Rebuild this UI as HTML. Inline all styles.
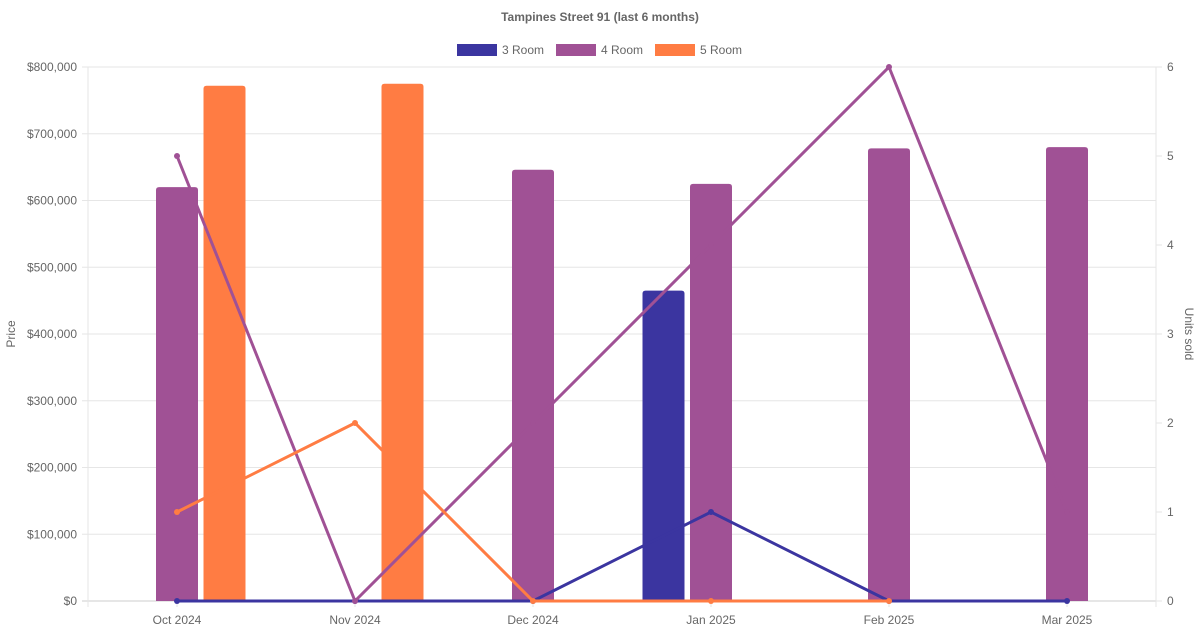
<!DOCTYPE html>
<html><head><meta charset="utf-8"><style>
body{margin:0;background:#fff}
svg{display:block;font-family:"Liberation Sans",sans-serif}
</style></head><body>
<svg id="c" width="1200" height="630"></svg>
<script>
const categories=["Oct 2024","Nov 2024","Dec 2024","Jan 2025","Feb 2025","Mar 2025"];
const seriesNames=["3 Room","4 Room","5 Room"];
const colors=["#3b35a0","#a05195","#ff7c43"];
const price3=[null,null,null,465000,null,null];
const price4=[620000,null,646000,625000,678000,680000];
const price5=[772000,775000,null,null,null,null];
const units3=[0,0,0,1,0,0];
const units4=[5,0,2,4,6,1];
const units5=[1,2,0,0,0,null];
const priceTicks=[0,100000,200000,300000,400000,500000,600000,700000,800000];
const unitTicks=[0,1,2,3,4,5,6];

const NS="http://www.w3.org/2000/svg";
const svg=document.getElementById('c');
const L=88,R=1156,T=67,B=601;
const bw=(R-L)/categories.length;
const xC=i=>L+bw*(i+0.5);
const yP=v=>B-(v/800000)*(B-T);
const yU=v=>B-(v/6)*(B-T);
function el(t,a,p){const e=document.createElementNS(NS,t);for(const k in a)e.setAttribute(k,a[k]);(p||svg).appendChild(e);return e;}
function txt(s,a){const e=el('text',Object.assign({fill:'#666','font-size':12},a));e.textContent=s;return e;}

const t=txt("Tampines Street 91 (last 6 months)",{x:600,y:21,'text-anchor':'middle','font-weight':'bold'});


// legend
const lx=[457,556,655];
seriesNames.forEach((n,i)=>{
  const g=el('g',{});
  
  
  el('rect',{x:lx[i],y:44,width:40,height:12,fill:colors[i]},g);
  const tt=el('text',{x:lx[i]+45,y:54,fill:'#666','font-size':12},g);tt.textContent=n;
});

// grid & left ticks
priceTicks.forEach(v=>{
  const y=yP(v);
  const ln=el('line',{x1:L-6,x2:R,y1:y,y2:y,stroke:v===0?'#ccc':'#e6e6e6'});
  
  const lb=txt('$'+v.toLocaleString('en-US'),{x:77,y:y+4,'text-anchor':'end'});
  
});
unitTicks.forEach(v=>{
  const y=yU(v);
  el('line',{x1:R,x2:R+6,y1:y,y2:y,stroke:'#e6e6e6'});
  const lb=txt(String(v),{x:1167,y:y+4});
  
});
el('line',{x1:L,x2:L,y1:T,y2:B+6,stroke:'#e6e6e6'});
el('line',{x1:R,x2:R,y1:T,y2:B+6,stroke:'#e6e6e6'});
categories.forEach((c,i)=>{
  el('line',{x1:xC(i),x2:xC(i),y1:B,y2:B+6,stroke:'#e6e6e6'});
  const lb=txt(c,{x:xC(i),y:624,'text-anchor':'middle'});
  
});
const yt=txt("Price",{x:0,y:0,'text-anchor':'middle',transform:'translate(15,334) rotate(-90)'});

const yt2=txt("Units sold",{x:0,y:0,'text-anchor':'middle',transform:'translate(1185,334) rotate(90)'});


// bars
const off=[-47.5,0,47.5];const barW=42;
[price3,price4,price5].forEach((arr,s)=>{
  arr.forEach((v,i)=>{if(v==null)return;
    const x=xC(i)+off[s]-barW/2,y=yP(v),r=3;
    const p=el('path',{d:`M${x} ${B}V${y+r}Q${x} ${y} ${x+r} ${y}H${x+barW-r}Q${x+barW} ${y} ${x+barW} ${y+r}V${B}Z`,fill:colors[s]});
    
  });
});

// lines (on top of bars)
[units3,units4,units5].forEach((arr,s)=>{
  let d='';let pen=false;
  arr.forEach((v,i)=>{if(v==null){pen=false;return;}d+=(pen?'L':'M')+xC(i)+' '+yU(v)+' ';pen=true;});
  const p=el('path',{d:d,fill:'none',stroke:colors[s],'stroke-width':3});
  
  arr.forEach((v,i)=>{if(v==null)return;
    const c=el('circle',{cx:xC(i),cy:yU(v),r:3,fill:colors[s]});
    });
});
</script>
</body></html>
